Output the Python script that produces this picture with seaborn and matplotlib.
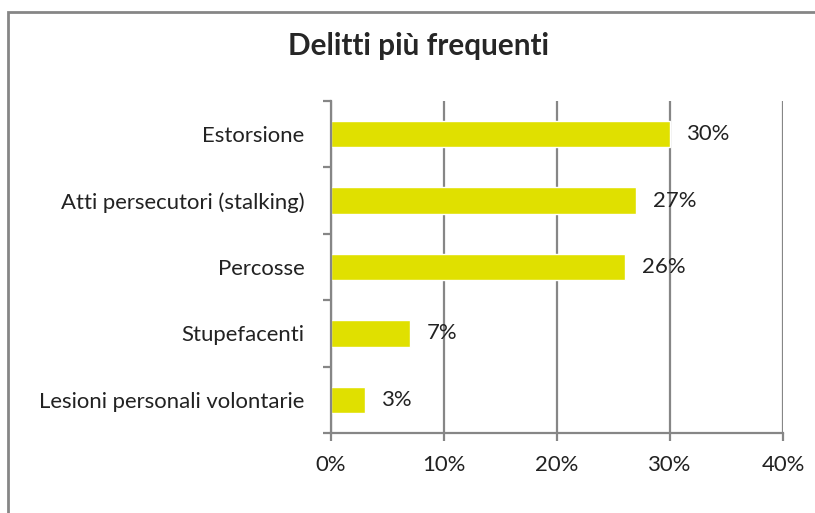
import numpy as np
import pandas as pd
import matplotlib
matplotlib.use("Agg")
import matplotlib.pyplot as plt
import seaborn as sns
from matplotlib.patches import Rectangle
from matplotlib.ticker import FuncFormatter

# data
CATEGORIES = [
    "Estorsione",
    "Atti persecutori (stalking)",
    "Percosse",
    "Stupefacenti",
    "Lesioni personali volontarie",
]
PERCENT = [30, 27, 26, 7, 3]
X_TICKS = [0, 10, 20, 30, 40]
TITLE = "Delitti più frequenti"

BAR_COLOR = "#E0E000"
AXIS_GREY = "#868686"
TEXT_COLOR = "#222222"
FS = 15.9

sns.set_style("white")
plt.rcParams["font.family"] = ["Lato", "DejaVu Sans"]

df = pd.DataFrame({"categoria": CATEGORIES, "valore": PERCENT})

fig = plt.figure(figsize=(8.15, 5.13), dpi=100)
ax = fig.add_axes([331 / 815, 1 - 433 / 513, 452 / 815, 332 / 513])

sns.barplot(data=df, x="valore", y="categoria", orient="h",
            color=BAR_COLOR, width=0.4, saturation=1, ax=ax)

ax.set_xlim(0, 40)
ax.set_ylim(4.5, -0.5)
ax.set_xticks(X_TICKS)
ax.xaxis.set_major_formatter(FuncFormatter(lambda v, p: f"{v:.0f}%"))
ax.set_xlabel("")
ax.set_ylabel("")

ax.set_axisbelow(True)
ax.xaxis.grid(True, color=AXIS_GREY, linewidth=1.6)
ax.yaxis.grid(False)

for side in ["top", "right"]:
    ax.spines[side].set_visible(False)
for side in ["left", "bottom"]:
    ax.spines[side].set_color(AXIS_GREY)
    ax.spines[side].set_linewidth(1.6)

ax.tick_params(axis="x", bottom=True, length=6, width=1.6, color=AXIS_GREY,
               labelsize=FS, pad=10, labelcolor=TEXT_COLOR)
ax.tick_params(axis="y", which="major", left=True, length=0, pad=19,
               labelsize=FS, labelcolor=TEXT_COLOR)
ax.set_yticks(np.arange(-0.5, len(CATEGORIES)), minor=True)
ax.tick_params(axis="y", which="minor", left=True, length=6, width=1.6,
               color=AXIS_GREY)

for i, v in enumerate(PERCENT):
    ax.text(v + 1.5, i, f"{v}%", va="center", ha="left",
            fontsize=FS, color=TEXT_COLOR)

fig.text(418 / 815, 1 - 46 / 513, TITLE, ha="center", va="center",
         fontsize=21.4, fontweight="bold")

fig.patches.append(Rectangle((8 / 815, -0.1), 1.0, 1.1 - 12 / 513,
                             transform=fig.transFigure, fill=False,
                             edgecolor=AXIS_GREY, linewidth=2))

fig.savefig("out.png", dpi=100)
